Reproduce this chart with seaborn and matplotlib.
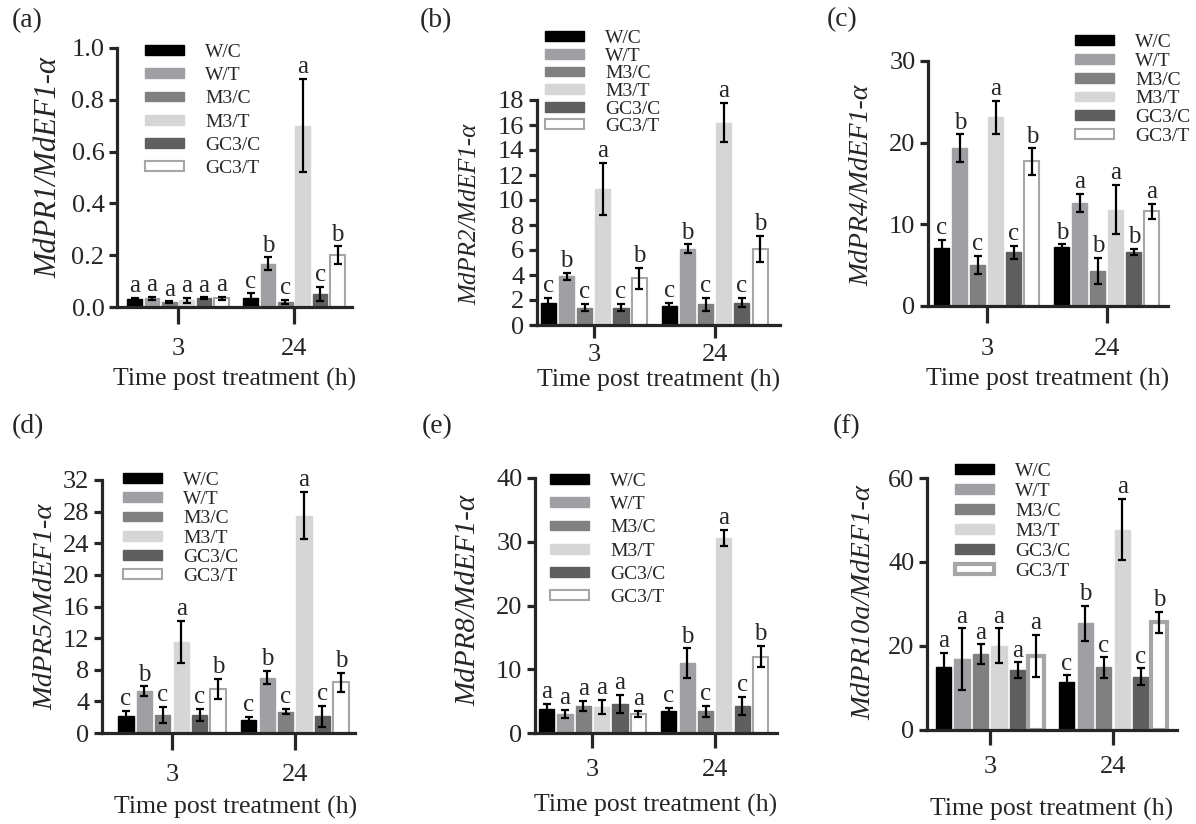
import numpy as np
import pandas as pd
import matplotlib
matplotlib.use("Agg")
import matplotlib.pyplot as plt
from matplotlib.patches import Patch
import seaborn as sns

groups = ["W/C", "W/T", "M3/C", "M3/T", "GC3/C", "GC3/T"]
times = ["3", "24"]
bar_colors = ["#000000", "#a0a0a4", "#808080", "#d6d6d6", "#5f5f5f", "#ffffff"]
edge_colors = ["#000000", "#a0a0a4", "#808080", "#d6d6d6", "#5f5f5f", "#a6a6a6"]

# (a) MdPR1
pr1_3h = [0.032, 0.033, 0.018, 0.026, 0.033, 0.033]
pr1_3h_err = [0.004, 0.007, 0.004, 0.010, 0.004, 0.006]
pr1_24h = [0.033, 0.167, 0.020, 0.700, 0.050, 0.200]
pr1_24h_err = [0.020, 0.025, 0.008, 0.180, 0.027, 0.034]
pr1_let_3h = ["a", "a", "a", "a", "a", "a"]
pr1_let_24h = ["c", "b", "c", "a", "c", "b"]

# (b) MdPR2
pr2_3h = [1.8, 3.9, 1.4, 10.9, 1.4, 3.75]
pr2_3h_err = [0.4, 0.3, 0.3, 2.1, 0.3, 0.85]
pr2_24h = [1.5, 6.1, 1.65, 16.2, 1.8, 6.1]
pr2_24h_err = [0.3, 0.35, 0.5, 1.55, 0.35, 1.05]
pr2_let_3h = ["c", "b", "c", "a", "c", "b"]
pr2_let_24h = ["c", "b", "c", "a", "c", "b"]

# (c) MdPR4
pr4_3h = [7.1, 19.3, 5.0, 23.1, 6.6, 17.7]
pr4_3h_err = [1.0, 1.7, 1.1, 2.0, 0.8, 1.6]
pr4_24h = [7.2, 12.6, 4.3, 11.8, 6.6, 11.6]
pr4_24h_err = [0.35, 1.1, 1.6, 3.0, 0.4, 0.95]
pr4_let_3h = ["c", "b", "c", "a", "c", "b"]
pr4_let_24h = ["b", "a", "b", "a", "b", "a"]

# (d) MdPR5
pr5_3h = [2.2, 5.3, 2.3, 11.5, 2.3, 5.6]
pr5_3h_err = [0.6, 0.6, 1.0, 2.7, 0.75, 1.25]
pr5_24h = [1.6, 7.0, 2.7, 27.5, 2.1, 6.4]
pr5_24h_err = [0.4, 0.85, 0.35, 3.0, 1.35, 1.25]
pr5_let_3h = ["c", "b", "c", "a", "c", "b"]
pr5_let_24h = ["c", "b", "c", "a", "c", "b"]

# (e) MdPR8
pr8_3h = [3.8, 3.0, 4.2, 4.1, 4.6, 3.0]
pr8_3h_err = [0.8, 0.6, 0.8, 1.1, 1.4, 0.5]
pr8_24h = [3.5, 11.0, 3.4, 30.6, 4.3, 12.0]
pr8_24h_err = [0.4, 2.3, 0.9, 1.3, 1.4, 1.7]
pr8_let_3h = ["a", "a", "a", "a", "a", "a"]
pr8_let_24h = ["c", "b", "c", "a", "c", "b"]

# (f) MdPR10a
pr10_3h = [15.1, 16.9, 18.1, 20.1, 14.3, 17.7]
pr10_3h_err = [3.2, 7.3, 2.3, 4.1, 1.8, 5.0]
pr10_24h = [11.5, 25.4, 14.9, 47.7, 12.7, 25.6]
pr10_24h_err = [1.5, 4.2, 2.4, 7.3, 2.0, 2.6]
pr10_let_3h = ["a", "a", "a", "a", "a", "a"]
pr10_let_24h = ["c", "b", "c", "a", "c", "b"]

panels = [
    ("(a)", "MdPR1", pr1_3h, pr1_3h_err, pr1_24h, pr1_24h_err, pr1_let_3h, pr1_let_24h,
     [0, 0.2, 0.4, 0.6, 0.8, 1.0]),
    ("(b)", "MdPR2", pr2_3h, pr2_3h_err, pr2_24h, pr2_24h_err, pr2_let_3h, pr2_let_24h,
     list(range(0, 19, 2))),
    ("(c)", "MdPR4", pr4_3h, pr4_3h_err, pr4_24h, pr4_24h_err, pr4_let_3h, pr4_let_24h,
     [0, 10, 20, 30]),
    ("(d)", "MdPR5", pr5_3h, pr5_3h_err, pr5_24h, pr5_24h_err, pr5_let_3h, pr5_let_24h,
     list(range(0, 33, 4))),
    ("(e)", "MdPR8", pr8_3h, pr8_3h_err, pr8_24h, pr8_24h_err, pr8_let_3h, pr8_let_24h,
     [0, 10, 20, 30, 40]),
    ("(f)", "MdPR10a", pr10_3h, pr10_3h_err, pr10_24h, pr10_24h_err, pr10_let_3h, pr10_let_24h,
     [0, 20, 40, 60]),
]

# layout in pixels: axes box (left, top, right, bottom), xlim, legend anchor, row spacing,
# ylabel size, ylabel pos, xlabel pos, tag pos
styles = [
    dict(box=(117, 48, 352, 307), xlim=(-0.526, 1.5), leg=(145, 110.5), ls=0.32,
         yfs=22, ylab=(-0.23, 0.54), xlab=(0.5, -0.235), tag=(12, 21), xtl=12, xpad=10,
         gc3_lw=1.5),
    dict(box=(537, 100, 780, 325), xlim=(-0.47, 1.54), leg=(545, 82.7), ls=0.03,
         yfs=18, ylab=(-0.23, 0.493), xlab=(0.5, -0.197), tag=(420, 21), xtl=9, xpad=5,
         gc3_lw=1.5),
    dict(box=(928, 61, 1168, 306), xlim=(-0.49, 1.51), leg=(1075, 89.5), ls=0.095,
         yfs=20, ylab=(-0.225, 0.494), xlab=(0.5, -0.253), tag=(827, 20), xtl=12, xpad=11,
         gc3_lw=1.5),
    dict(box=(102, 480, 355, 733), xlim=(-0.57, 1.49), leg=(123, 528.5), ls=0.116,
         yfs=20.5, ylab=(-0.174, 0.498), xlab=(0.528, -0.247), tag=(12, 427), xtl=12, xpad=10,
         gc3_lw=1.5),
    dict(box=(535, 478, 777, 733), xlim=(-0.47, 1.51), leg=(550, 539.5), ls=0.32,
         yfs=21, ylab=(-0.223, 0.52), xlab=(0.5, -0.24), tag=(422, 427), xtl=11, xpad=8,
         gc3_lw=1.5),
    dict(box=(927, 478, 1177, 730), xlim=(-0.51, 1.52), leg=(955, 521.5), ls=0.157,
         yfs=20.5, ylab=(-0.204, 0.504), xlab=(0.5, -0.27), tag=(833, 427), xtl=11, xpad=8,
         gc3_lw=3),
]

sns.set_style("ticks")
plt.rcParams["font.family"] = ["Liberation Serif", "DejaVu Serif"]

W, H = 1196, 824
fig = plt.figure(figsize=(W / 100, H / 100), dpi=100)

for p, s in zip(panels, styles):
    tag, gene, m3, e3, m24, e24, let3, let24, yticks = p
    l, t, r, b = s["box"]
    ax = fig.add_axes([l / W, 1 - b / H, (r - l) / W, (b - t) / H])

    df = pd.DataFrame({
        "time": np.repeat(times, len(groups)),
        "group": groups * 2,
        "value": m3 + m24,
    })
    sns.barplot(data=df, x="time", y="value", hue="group", order=times, hue_order=groups,
                palette=bar_colors, saturation=1, errorbar=None, width=0.9, gap=0.17,
                legend=False, ax=ax)

    errs = [e3, e24]
    lets = [let3, let24]
    bar_conts = list(ax.containers)
    for gi, cont in enumerate(bar_conts):
        for ti, bar in enumerate(cont):
            bar.set_edgecolor(edge_colors[gi])
            bar.set_linewidth(s["gc3_lw"] if gi == 5 else 1.0)
            x = bar.get_x() + bar.get_width() / 2
            h = bar.get_height()
            e = errs[ti][gi]
            ax.errorbar(x, h, yerr=e, fmt="none", ecolor="black", elinewidth=1.6,
                        capsize=3, capthick=1.6, zorder=3)
            ax.annotate(lets[ti][gi], (x, h + e), xytext=(0, 0.5), textcoords="offset points",
                        ha="center", va="bottom", fontsize=18)

    ax.set_xlim(*s["xlim"])
    ax.set_ylim(0, yticks[-1])
    ax.set_yticks(yticks)
    if tag == "(a)":
        ax.set_yticklabels([f"{v:.1f}" for v in yticks])
    sns.despine(ax=ax)
    for sp in ["left", "bottom"]:
        ax.spines[sp].set_linewidth(2.3)
    ax.tick_params(axis="y", length=6, width=2.3, labelsize=19, pad=3)
    ax.tick_params(axis="x", length=s["xtl"], width=2.3, labelsize=19, pad=s["xpad"])

    ax.set_xlabel("Time post treatment (h)", fontsize=18.5)
    ax.set_ylabel(f"{gene}/MdEF1-α", fontsize=s["yfs"], fontstyle="italic")
    ax.xaxis.set_label_coords(*s["xlab"])
    ax.yaxis.set_label_coords(*s["ylab"])

    handles = [Patch(facecolor=c, edgecolor=ec, linewidth=(s["gc3_lw"] if i == 5 else 1.0), label=g)
               for i, (c, ec, g) in enumerate(zip(bar_colors, edge_colors, groups))]
    lx, ly = s["leg"]
    ax.legend(handles=handles, loc="center left", bbox_to_anchor=(lx / W, 1 - ly / H),
              bbox_transform=fig.transFigure, frameon=False, fontsize=14,
              handlelength=2.0, handleheight=0.4, handletextpad=1.1,
              labelspacing=s["ls"], borderpad=0, borderaxespad=0)

    tx, ty = s["tag"]
    fig.text(tx / W, 1 - ty / H, tag, fontsize=20, ha="left", va="center")

fig.savefig("out.png", dpi=100)
